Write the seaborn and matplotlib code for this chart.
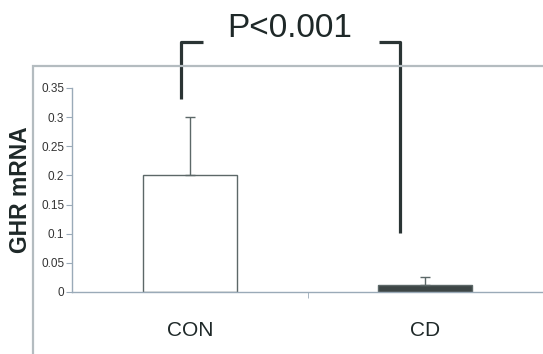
import matplotlib
matplotlib.use("Agg")
import matplotlib.pyplot as plt
import seaborn as sns
import pandas as pd
from matplotlib.patches import Rectangle

# Dados
grupos = ["CON", "CD"]
medias = [0.2, 0.012]
erros = [0.1, 0.014]
cores = ["white", "#3b4848"]
y_ticks = [0, 0.05, 0.1, 0.15, 0.2, 0.25, 0.3, 0.35]
y_tick_labels = ["0", "0.05", "0.1", "0.15", "0.2", "0.25", "0.3", "0.35"]
texto_p = "P<0.001"

df = pd.DataFrame({"Grupo": grupos, "GHR": medias})

sns.set_style("white")
plt.rcParams["font.family"] = ["Liberation Sans", "DejaVu Sans"]

fig = plt.figure(figsize=(5.43, 3.54), dpi=100)
ax = fig.add_axes([72 / 543, 1 - 292 / 354, 1 - 72 / 543, (292 - 88) / 354])

sns.barplot(data=df, x="Grupo", y="GHR", hue="Grupo", palette=cores,
            width=0.4, edgecolor="#5c6868", linewidth=1.0, legend=False, ax=ax)

# Barras de erro (só para cima)
ax.errorbar(range(len(grupos)), medias, yerr=[[0] * len(erros), erros],
            fmt="none", ecolor="#5c6868", elinewidth=1.0, capsize=3.5, capthick=1.0)

ax.set_xlim(-0.5, 1.5)
ax.set_ylim(0, 0.35)
ax.set_yticks(y_ticks)
ax.set_yticklabels(y_tick_labels, fontsize=8.5, color="#333333")
ax.set_xticks([0, 1])
ax.set_xticklabels(grupos, fontsize=15, color="#1e2828")
ax.set_xticks([0.5], minor=True)
ax.tick_params(axis="x", which="major", length=0, pad=21)
ax.tick_params(axis="x", which="minor", length=4, color="#9aaab8", direction="out", bottom=True)
ax.tick_params(axis="y", length=4, color="#9aaab8", direction="out", left=True, pad=1.5)

ax.set_xlabel("")
ax.set_ylabel("GHR mRNA", fontsize=16.5, fontweight="bold", color="#1e2828", labelpad=7)

for lado in ["top", "right"]:
    ax.spines[lado].set_visible(False)
for lado in ["left", "bottom"]:
    ax.spines[lado].set_color("#9aaab8")
    ax.spines[lado].set_linewidth(1.0)

# Colchete de significância
cor_colchete = "#2a3434"
y_top = 0.429
ax.plot([-0.038, -0.038, 0.055], [0.331, y_top, y_top], color=cor_colchete,
        lw=2.3, clip_on=False, solid_capstyle="butt")
ax.plot([0.805, 0.894, 0.894], [y_top, y_top, 0.101], color=cor_colchete,
        lw=2.3, clip_on=False, solid_capstyle="butt")
ax.text(0.424, 0.452, texto_p, ha="center", va="center", fontsize=24,
        color="#1e2828", clip_on=False)

# Moldura externa (área do gráfico)
fig.patches.append(Rectangle((33 / 543, -0.05), 1.2, 1 - 66 / 354 + 0.05,
                             transform=fig.transFigure, fill=False,
                             edgecolor="#b4bcc0", linewidth=1.6, zorder=0))

fig.savefig("out.png", dpi=100)
